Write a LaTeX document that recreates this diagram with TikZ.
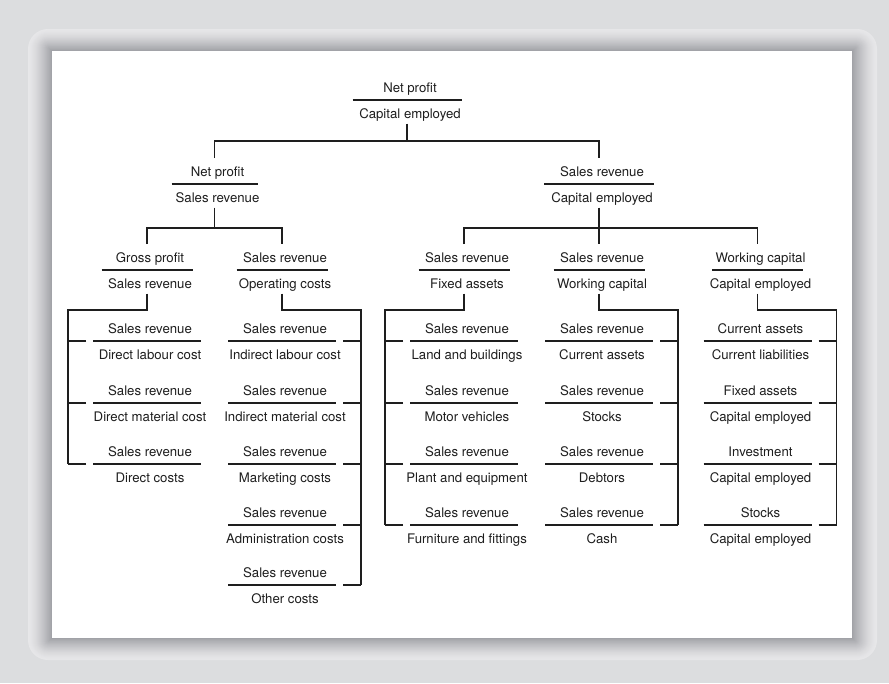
\documentclass[tikz,border=0pt]{standalone}
\usepackage{fontspec}
\setmainfont{TeX Gyre Heros}
\usetikzlibrary{calc}

\definecolor{bg}{RGB}{220,221,223}
\definecolor{bandout}{RGB}{231,231,233}
\definecolor{bandin}{RGB}{158,159,164}
\definecolor{ink}{RGB}{30,30,30}

\tikzset{
  lbl/.style={font=\fontsize{13.2}{15}\selectfont, text=ink, inner sep=0pt, anchor=base},
  fracbar/.style={draw=ink, line width=1.2pt},
  wire/.style={draw=ink, line width=1.2pt},
}

% A ratio: numerator over a bar over denominator.
% #1 name, #2 x of bar centre, #3 y of bar, #4 half bar width, #5 numerator, #6 denominator
\newcommand\ratiofig[6]{%
  \coordinate (#1L) at ({#2-#4},{#3});
  \coordinate (#1R) at ({#2+#4},{#3});
  \coordinate (#1t) at ({#2},{#3-26});
  \coordinate (#1b) at ({#2},{#3+23.5});
  \node[lbl] (#1n) at ({#2+3},{#3-7.5}) {#5};
  \node[lbl] (#1d) at ({#2+3},{#3+18}) {#6};
  \draw[fracbar] (#1L) -- (#1R);
}

\begin{document}
\begin{tikzpicture}[x=1pt,y=-1pt]
\useasboundingbox (0,0) rectangle (889,683);

% backdrop and shaded frame
\fill[bg] (0,0) rectangle (889,683);
\foreach \i in {0,...,24} {
  \pgfmathsetmacro\t{\i/24}
  \pgfmathtruncatemacro\p{100*(\t^1.4)}
  \pgfmathsetmacro\r{max(20-23*\t,0.01)}
  \fill[fill=bandin!\p!bandout, rounded corners=\r pt]
    ({28+24*\t},{29+22*\t}) rectangle ({877-25*\t},{660-22*\t});
}
\fill[white] (52,51) rectangle (852,638);

% level 1
\ratiofig{T}{407}{100}{54.5}{Net profit}{Capital employed}
% level 2
\ratiofig{P}{214.5}{184}{43}{Net profit}{Sales revenue}
\ratiofig{Q}{599}{184}{55}{Sales revenue}{Capital employed}
% level 3
\ratiofig{A}{147}{270}{45.5}{Gross profit}{Sales revenue}
\ratiofig{B}{282}{270}{45.5}{Sales revenue}{Operating costs}
\ratiofig{C}{464}{270}{45.5}{Sales revenue}{Fixed assets}
\ratiofig{D}{599}{270}{45.5}{Sales revenue}{Working capital}
\ratiofig{E}{757.5}{270}{45.5}{Working capital}{Capital employed}
% level 4
\ratiofig{A1}{147}{341}{54}{Sales revenue}{Direct labour cost}
\ratiofig{A2}{147}{403}{54}{Sales revenue}{Direct material cost}
\ratiofig{A3}{147}{464}{54}{Sales revenue}{Direct costs}

\ratiofig{B1}{282}{341}{54}{Sales revenue}{Indirect labour cost}
\ratiofig{B2}{282}{403}{54}{Sales revenue}{Indirect material cost}
\ratiofig{B3}{282}{464}{54}{Sales revenue}{Marketing costs}
\ratiofig{B4}{282}{525}{54}{Sales revenue}{Administration costs}
\ratiofig{B5}{282}{585}{54}{Sales revenue}{Other costs}

\ratiofig{C1}{464}{341}{54}{Sales revenue}{Land and buildings}
\ratiofig{C2}{464}{403}{54}{Sales revenue}{Motor vehicles}
\ratiofig{C3}{464}{464}{54}{Sales revenue}{Plant and equipment}
\ratiofig{C4}{464}{525}{54}{Sales revenue}{Furniture and fittings}

\ratiofig{D1}{599}{341}{54}{Sales revenue}{Current assets}
\ratiofig{D2}{599}{403}{54}{Sales revenue}{Stocks}
\ratiofig{D3}{599}{464}{54}{Sales revenue}{Debtors}
\ratiofig{D4}{599}{525}{54}{Sales revenue}{Cash}

\ratiofig{E1}{757.5}{341}{54}{Current assets}{Current liabilities}
\ratiofig{E2}{757.5}{403}{54}{Fixed assets}{Capital employed}
\ratiofig{E3}{757.5}{464}{54}{Investment}{Capital employed}
\ratiofig{E4}{757.5}{525}{54}{Stocks}{Capital employed}

% tree connectors
\draw[wire] (Tb) -- ++(0,17.5) coordinate (jT);
\draw[wire] (Pt) |- (jT) -| (Qt);

\draw[wire] (Pb) -- ++(0,20.5) coordinate (jP);
\draw[wire] (At) |- (jP) -| (Bt);

\draw[wire] (Qb) -- (Dt);
\path (Qb) -- ++(0,20.5) coordinate (jQ);
\draw[wire] (Ct) |- (jQ) -| (Et);

% brackets on the left of a column
\draw[wire] (Ab) -- ++(0,16.5) -| ([xshift=-25pt]A3L);
\foreach \r in {A1,A2,A3}
  \draw[wire] ([xshift=-7pt]\r L) -- ([xshift=-25pt]\r L);
\draw[wire] (Cb) -- ++(0,16.5) -| ([xshift=-25pt]C4L);
\foreach \r in {C1,C2,C3,C4}
  \draw[wire] ([xshift=-7pt]\r L) -- ([xshift=-25pt]\r L);

% brackets on the right of a column
\draw[wire] (Bb) -- ++(0,16.5) -| ([xshift=25pt]B5R);
\foreach \r in {B1,B2,B3,B4,B5}
  \draw[wire] ([xshift=7pt]\r R) -- ([xshift=25pt]\r R);
\draw[wire] (Db) -- ++(0,16.5) -| ([xshift=25pt]D4R);
\foreach \r in {D1,D2,D3,D4}
  \draw[wire] ([xshift=7pt]\r R) -- ([xshift=25pt]\r R);
\draw[wire] (Eb) -- ++(0,16.5) -| ([xshift=25pt]E4R);
\foreach \r in {E1,E2,E3,E4}
  \draw[wire] ([xshift=7pt]\r R) -- ([xshift=25pt]\r R);
\end{tikzpicture}
\end{document}
